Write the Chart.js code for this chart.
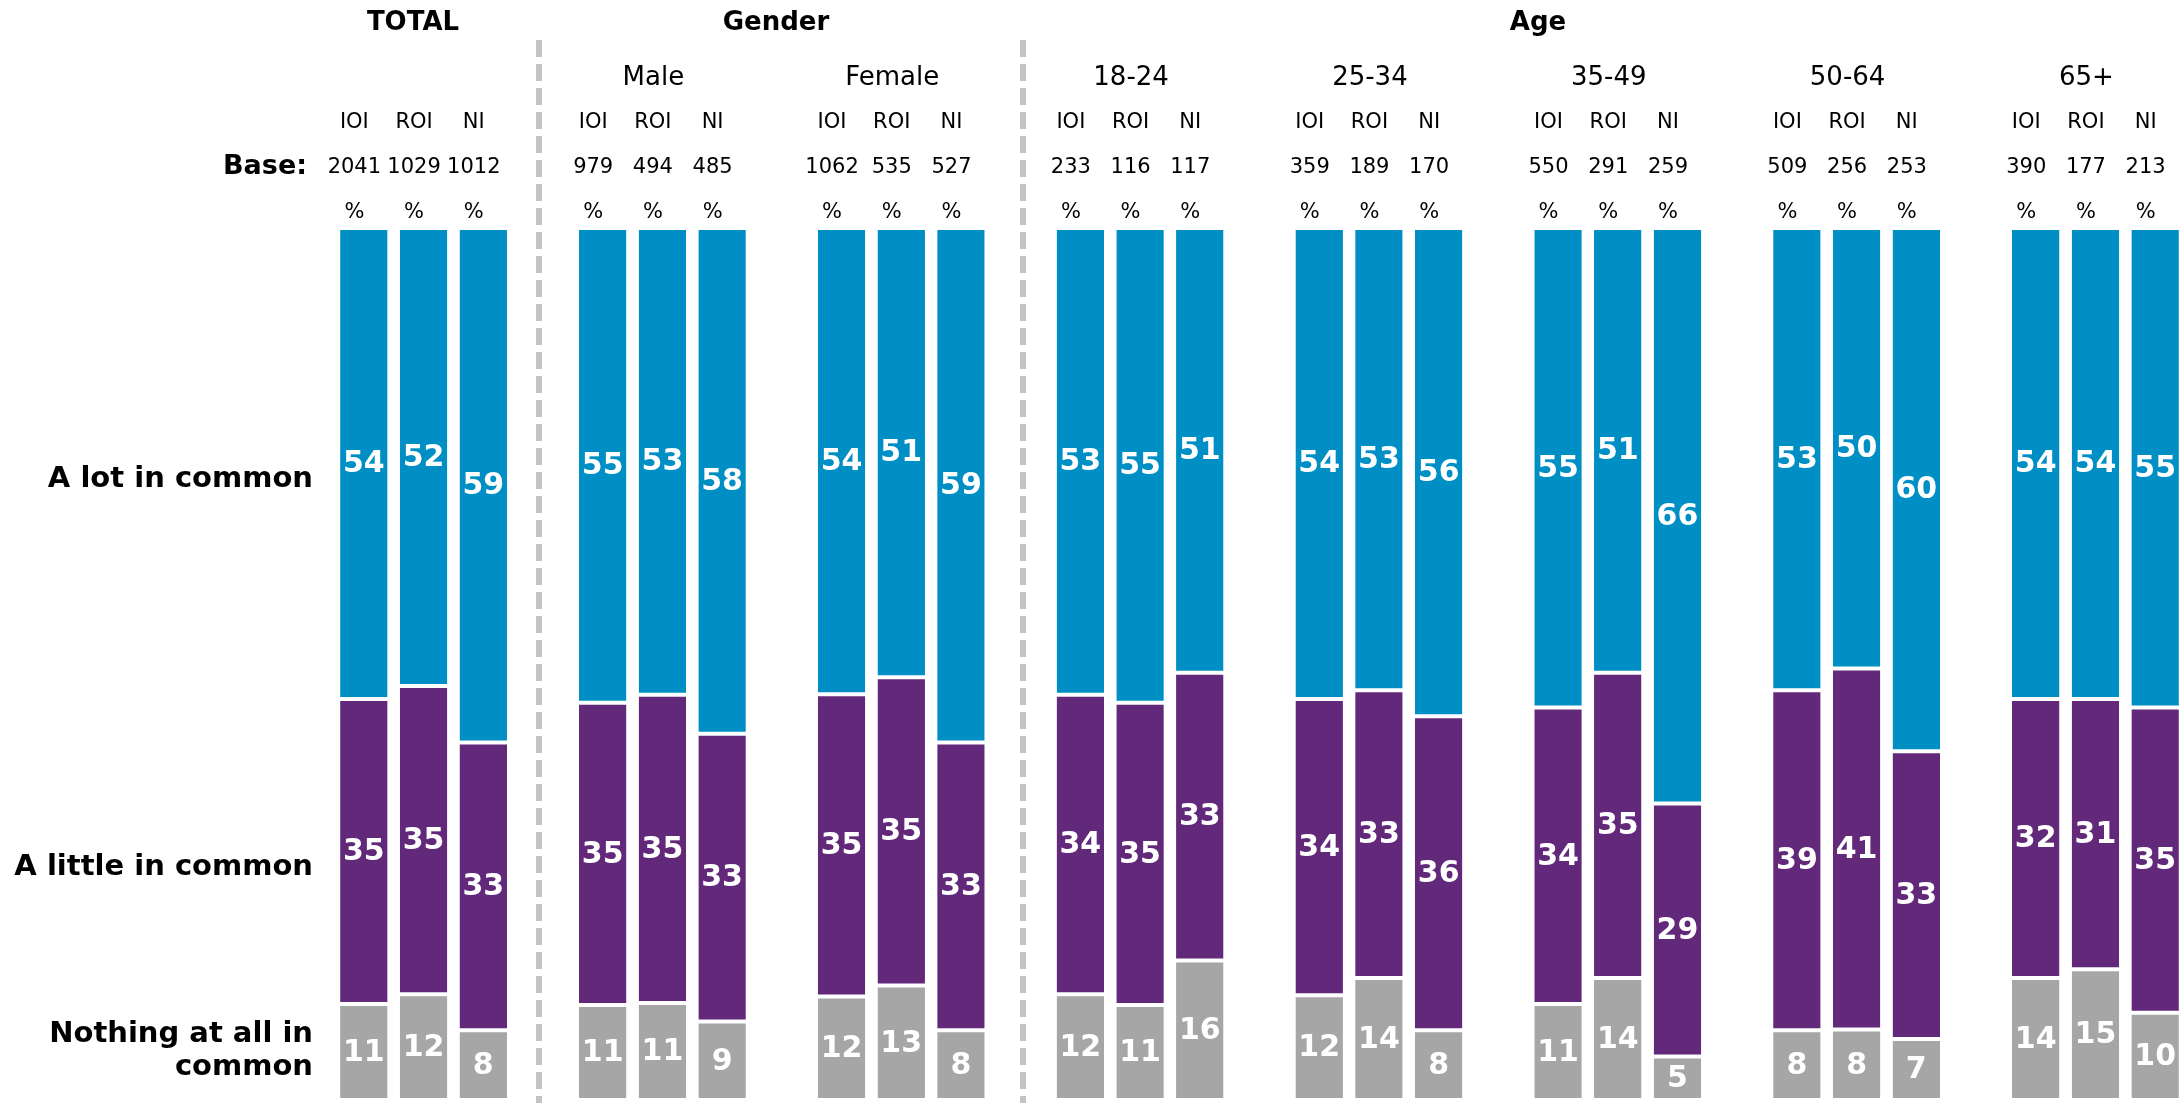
<!DOCTYPE html>
<html lang="en">
<head>
    <meta charset="UTF-8">
    <title>In common - by region</title>
    <script src="https://cdn.jsdelivr.net/npm/chart.js"></script>
    <style>
        html, body {
            margin: 0;
            padding: 0;
            background: #fff;
            overflow: hidden;
        }
        #chart {
            display: block;
        }
    </style>
</head>
<body>
    <canvas id="chart" width="2185" height="1103"></canvas>

    <script>
        // Data
        const sections = ['TOTAL', 'Gender', 'Age'];
        const groups = ['TOTAL', 'Male', 'Female', '18-24', '25-34', '35-49', '50-64', '65+'];
        const regions = ['IOI', 'ROI', 'NI'];
        const bases = [2041, 1029, 1012, 979, 494, 485, 1062, 535, 527, 233, 116, 117,
                       359, 189, 170, 550, 291, 259, 509, 256, 253, 390, 177, 213];
        const aLot = [54, 52, 59, 55, 53, 58, 54, 51, 59, 53, 55, 51,
                      54, 53, 56, 55, 51, 66, 53, 50, 60, 54, 54, 55];
        const aLittle = [35, 35, 33, 35, 35, 33, 35, 35, 33, 34, 35, 33,
                         34, 33, 36, 34, 35, 29, 39, 41, 33, 32, 31, 35];
        const nothing = [11, 12, 8, 11, 11, 9, 12, 13, 8, 12, 11, 16,
                         12, 14, 8, 11, 14, 5, 8, 8, 7, 14, 15, 10];
        const rowLabels = ['A lot in common', 'A little in common', ['Nothing at all in', 'common']];

        const BLUE = '#008FC4';
        const PURPLE = '#622879';
        const GREY = '#A6A6A6';
        const FONT = '"DejaVu Sans", Verdana, sans-serif';

        // every group gets 3 bars plus an empty slot as spacer
        const slotLabels = [];
        groups.forEach((g, gi) => {
            regions.forEach(r => slotLabels.push(g + ' ' + r));
            if (gi < groups.length - 1) slotLabels.push('');
        });
        const slotOf = i => Math.floor(i / 3) * 4 + (i % 3);

        // 100% stacked: each bar is scaled to its own total
        function toSlots(arr, share) {
            const out = slotLabels.map(() => null);
            arr.forEach((v, i) => {
                const total = aLot[i] + aLittle[i] + nothing[i];
                out[slotOf(i)] = share ? v / total * 100 : v;
            });
            return out;
        }

        const series = [nothing, aLittle, aLot];

        const valueLabels = {
            id: 'valueLabels',
            afterDatasetsDraw(chart) {
                const ctx = chart.ctx;
                ctx.save();
                ctx.fillStyle = '#fff';
                ctx.font = 'bold 30px ' + FONT;
                ctx.textAlign = 'center';
                ctx.textBaseline = 'middle';
                series.forEach((arr, d) => {
                    const shown = toSlots(arr, false);
                    chart.getDatasetMeta(d).data.forEach((el, idx) => {
                        if (shown[idx] == null) return;
                        ctx.fillText(String(shown[idx]), el.x, (el.y + el.base) / 2 + 1);
                    });
                });
                ctx.restore();
            }
        };

        const headers = {
            id: 'headers',
            afterDraw(chart) {
                const ctx = chart.ctx;
                const xs = chart.scales.x;
                ctx.save();
                ctx.fillStyle = '#000';
                ctx.textBaseline = 'alphabetic';

                // dashed separators
                ctx.strokeStyle = '#C4C4C4';
                ctx.lineWidth = 6;
                ctx.setLineDash([17, 7]);
                [539, 1023].forEach(x => {
                    ctx.beginPath();
                    ctx.moveTo(x, 40);
                    ctx.lineTo(x, 1103);
                    ctx.stroke();
                });
                ctx.setLineDash([]);

                // section titles
                ctx.font = 'bold 26px ' + FONT;
                ctx.textAlign = 'center';
                const sectionX = [413, 776, 1538];
                sections.forEach((s, i) => ctx.fillText(s, sectionX[i], 30));

                // group names over the middle bar
                ctx.font = '26px ' + FONT;
                groups.forEach((g, gi) => {
                    if (gi === 0) return;
                    const x = xs.getPixelForValue(gi * 4 + 1) - 9;
                    ctx.fillText(g, x, 85);
                });

                // per-bar rows
                ctx.font = '21px ' + FONT;
                bases.forEach((b, i) => {
                    const x = xs.getPixelForValue(slotOf(i)) - 9.5;
                    ctx.fillText(regions[i % 3], x, 128);
                    ctx.fillText(String(b), x, 173);
                    ctx.fillText('%', x, 218);
                });

                ctx.textAlign = 'right';
                ctx.font = 'bold 27px ' + FONT;
                ctx.fillText('Base:', 307, 174);

                // row labels on the left
                ctx.font = 'bold 29px ' + FONT;
                ctx.fillText(rowLabels[0], 313, 487);
                ctx.fillText(rowLabels[1], 313, 875);
                ctx.fillText(rowLabels[2][0], 313, 1042);
                ctx.fillText(rowLabels[2][1], 313, 1075);
                ctx.restore();
            }
        };

        const barStyle = {
            borderColor: '#fff',
            borderWidth: { top: 2, bottom: 2, left: 0, right: 0 },
            borderSkipped: false,
            barPercentage: 0.795,
            categoryPercentage: 1
        };

        new Chart(document.getElementById('chart'), {
            type: 'bar',
            data: {
                labels: slotLabels,
                datasets: [
                    Object.assign({ label: 'Nothing at all in common', data: toSlots(nothing, true), backgroundColor: GREY }, barStyle),
                    Object.assign({ label: 'A little in common', data: toSlots(aLittle, true), backgroundColor: PURPLE }, barStyle),
                    Object.assign({ label: 'A lot in common', data: toSlots(aLot, true), backgroundColor: BLUE }, barStyle)
                ]
            },
            options: {
                responsive: false,
                animation: false,
                layout: {
                    padding: { left: 334, right: 0, top: 228, bottom: 3 }
                },
                plugins: {
                    legend: { display: false },
                    tooltip: { enabled: false }
                },
                scales: {
                    x: { display: false, stacked: true },
                    y: { display: false, stacked: true, min: 0, max: 100 }
                }
            },
            plugins: [valueLabels, headers]
        });
    </script>
</body>
</html>
